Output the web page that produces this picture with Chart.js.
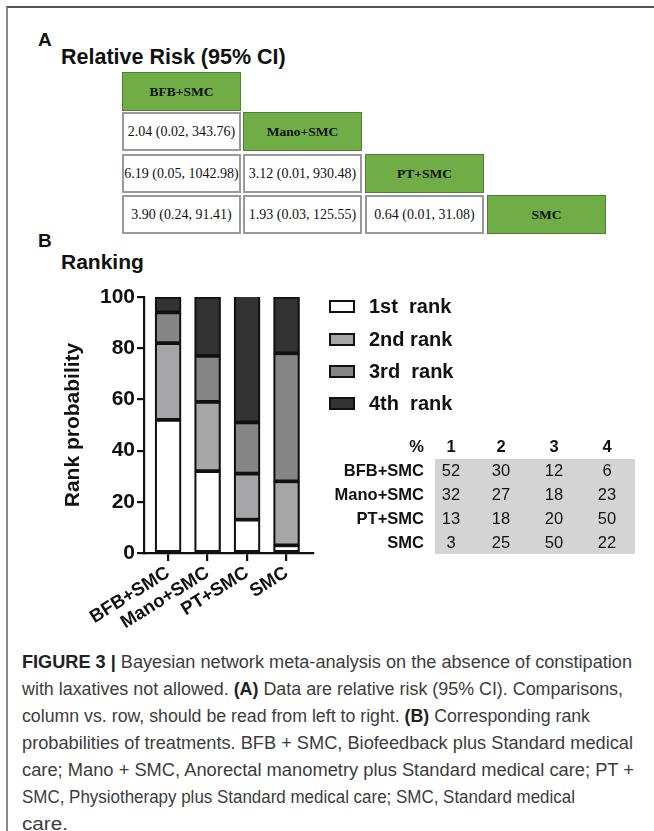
<!DOCTYPE html>
<html>
<head>
<meta charset="utf-8">
<script src="https://cdn.jsdelivr.net/npm/chart.js@4.4.1/dist/chart.umd.min.js"></script>
<style>
  html, body { margin: 0; padding: 0; background: #fff; }
  body { width: 654px; height: 831px; position: relative; overflow: hidden; font-family: "Liberation Sans", Arial, sans-serif; }
  .abs { position: absolute; }
  .frame { position: absolute; left: 6px; top: 6px; right: -2px; bottom: -2px; border-top: 2px solid #555; border-left: 2px solid #888; }
  .lbl { position: absolute; font-weight: bold; color: #111; white-space: nowrap; line-height: 1; }
  .cell { position: absolute; box-sizing: border-box; display: flex; align-items: center; justify-content: center;
          font-family: "Liberation Serif", "Times New Roman", serif; font-size: 14px; color: #111; white-space: nowrap; }
  .cell.rr { background: #fff; border: 2px solid #999; }
  .cell.hd { background: #70ad47; border: 1.5px solid #4f7f33; font-weight: bold; font-size: 13.5px; }
  .leg { position: absolute; font-weight: bold; font-size: 20px; color: #111; white-space: pre; line-height: 1; }
  .legbox { position: absolute; box-sizing: border-box; border: 2px solid #111; width: 26px; height: 13px; }
  .tb { position: absolute; font-size: 16.5px; color: #111; white-space: nowrap; line-height: 1; transform: translate(-50%, -50%); }
  .tb.b { font-weight: bold; }
  .rl { position: absolute; font-size: 16.5px; font-weight: bold; color: #111; white-space: nowrap; line-height: 1; transform: translate(-100%, -50%); }
  .cap { position: absolute; left: 22px; font-size: 17.5px; color: #3c3c3c; white-space: pre; line-height: 1; transform-origin: 0 50%; }
  .cap b { color: #222; }
</style>
</head>
<body>
<div class="frame"></div>

<div class="lbl" style="left:38px; top:30px; font-size:19px;">A</div>
<div class="lbl" style="left:61px; top:47px; font-size:21.5px;">Relative Risk (95% CI)</div>
<div id="matrix"></div>

<div class="lbl" style="left:38px; top:231px; font-size:19px;">B</div>
<div class="lbl" style="left:61px; top:251px; font-size:21px;">Ranking</div>

<div class="abs" style="left:0; top:270px; width:330px; height:360px;">
  <canvas id="c"></canvas>
</div>

<div id="legend"></div>
<div id="rtable"></div>
<div id="caption"></div>

<script>
// ---------- data ----------
const treatments = ['BFB+SMC', 'Mano+SMC', 'PT+SMC', 'SMC'];
const rrRow2 = ['2.04 (0.02, 343.76)'];
const rrRow3 = ['6.19 (0.05, 1042.98)', '3.12 (0.01, 930.48)'];
const rrRow4 = ['3.90 (0.24, 91.41)', '1.93 (0.03, 125.55)', '0.64 (0.01, 31.08)'];

const rankLabels = ['1st  rank', '2nd rank', '3rd  rank', '4th  rank'];
const rank1 = [52, 32, 13, 3];
const rank2 = [30, 27, 18, 25];
const rank3 = [12, 18, 20, 50];
const rank4 = [6, 23, 50, 22];
const yTicks = [0, 20, 40, 60, 80, 100];
const tableHeader = ['1', '2', '3', '4'];

const captionLines = [
  '<b>FIGURE 3 |</b> Bayesian network meta-analysis on the absence of constipation',
  'with laxatives not allowed. <b>(A)</b> Data are relative risk (95% CI). Comparisons,',
  'column vs. row, should be read from left to right. <b>(B)</b> Corresponding rank',
  'probabilities of treatments. BFB + SMC, Biofeedback plus Standard medical',
  'care; Mano + SMC, Anorectal manometry plus Standard medical care; PT +',
  'SMC, Physiotherapy plus Standard medical care; SMC, Standard medical',
  'care.'
];

// ---------- panel A matrix ----------
const rrRows = [[], rrRow2, rrRow3, rrRow4];
const colX = [122, 243, 365, 487];
const rowY = [72, 112, 154, 195];
const cw = 119, ch = 39;
const matrix = document.getElementById('matrix');
rrRows.forEach((row, r) => {
  row.forEach((txt, c) => {
    const d = document.createElement('div');
    d.className = 'cell rr';
    d.style.cssText = `left:${colX[c]}px;top:${rowY[r]}px;width:${cw}px;height:${ch}px;`;
    d.textContent = txt;
    matrix.appendChild(d);
  });
  const h = document.createElement('div');
  h.className = 'cell hd';
  h.style.cssText = `left:${colX[r]}px;top:${rowY[r]}px;width:${cw}px;height:${ch}px;`;
  h.textContent = treatments[r];
  matrix.appendChild(h);
});

// ---------- panel B chart ----------
const rankValues = [rank1, rank2, rank3, rank4];
const rankColors = ['#ffffff', '#a6a6a9', '#868686', '#333333'];

const datasets = rankValues.map((vals, k) => ({
  label: rankLabels[k],
  data: vals.map((v, i) => ({ x: i, y: v })),
  backgroundColor: rankColors[k],
  borderColor: '#111',
  borderWidth: 2.2,
  borderSkipped: false,
  barThickness: 26,
  grouped: false
}));

new Chart(document.getElementById('c'), {
  type: 'bar',
  data: { datasets },
  options: {
    responsive: true,
    maintainAspectRatio: false,
    animation: false,
    layout: { padding: { left: 61, top: 27, right: 17, bottom: 0 } },
    plugins: { legend: { display: false }, tooltip: { enabled: false } },
    scales: {
      x: {
        type: 'linear',
        offset: false,
        min: -0.61,
        max: 3.67,
        afterBuildTicks: (s) => { s.ticks = treatments.map((_, i) => ({ value: i })); },
        afterFit: (s) => { s.height = 77; s.paddingLeft = 0; s.paddingRight = 0; },
        grid: { offset: false, drawOnChartArea: false, drawTicks: true, tickLength: 8, color: '#111', lineWidth: 2.2 },
        border: { display: true, color: '#111', width: 2.2 },
        ticks: {
          autoSkip: false,
          minRotation: 32,
          maxRotation: 32,
          padding: 1,
          color: '#111',
          font: { family: 'Liberation Sans, Arial, sans-serif', size: 18.5, weight: 'bold' },
          callback: (v) => treatments[v]
        }
      },
      y: {
        stacked: true,
        min: 0,
        max: 100,
        afterBuildTicks: (s) => { s.ticks = yTicks.map(v => ({ value: v })); },
        afterFit: (s) => { s.width = 83; },
        grid: { drawOnChartArea: false, drawTicks: true, tickLength: 7, color: '#111', lineWidth: 2.2 },
        border: { display: true, color: '#111', width: 2.2 },
        ticks: {
          padding: 2,
          color: '#111',
          font: { family: 'Liberation Sans, Arial, sans-serif', size: 21, weight: 'bold' }
        },
        title: {
          display: true,
          text: 'Rank probability',
          color: '#111',
          padding: 0,
          font: { family: 'Liberation Sans, Arial, sans-serif', size: 21, weight: 'bold' }
        }
      }
    }
  }
});

// ---------- legend ----------
const legend = document.getElementById('legend');
const legY = [306, 339, 371, 403];
rankLabels.forEach((t, k) => {
  const b = document.createElement('div');
  b.className = 'legbox';
  b.style.cssText = `left:329px;top:${legY[k] - 6}px;background:${rankColors[k]};`;
  legend.appendChild(b);
  const l = document.createElement('div');
  l.className = 'leg';
  l.style.cssText = `left:369px;top:${legY[k] - 10}px;`;
  l.textContent = t;
  legend.appendChild(l);
});

// ---------- rank table ----------
const rt = document.getElementById('rtable');
const bg = document.createElement('div');
bg.className = 'abs';
bg.style.cssText = 'left:435px;top:459px;width:200px;height:95px;background:#d4d4d4;';
rt.appendChild(bg);
const colC = [451, 501, 554, 607];
const rowC = [470, 494, 518, 542];
const hdr = document.createElement('div');
hdr.className = 'rl';
hdr.style.cssText = 'left:424px;top:446px;';
hdr.textContent = '%';
rt.appendChild(hdr);
tableHeader.forEach((h, j) => {
  const d = document.createElement('div');
  d.className = 'tb b';
  d.style.cssText = `left:${colC[j]}px;top:446px;`;
  d.textContent = h;
  rt.appendChild(d);
});
treatments.forEach((t, i) => {
  const r = document.createElement('div');
  r.className = 'rl';
  r.style.cssText = `left:424px;top:${rowC[i]}px;`;
  r.textContent = t;
  rt.appendChild(r);
  rankValues.forEach((vals, j) => {
    const d = document.createElement('div');
    d.className = 'tb';
    d.style.cssText = `left:${colC[j]}px;top:${rowC[i]}px;`;
    d.textContent = String(vals[i]);
    rt.appendChild(d);
  });
});

// ---------- caption ----------
const cap = document.getElementById('caption');
const capRight = [632, 623, 590, 633, 634, 575, 68];
captionLines.forEach((html, i) => {
  const d = document.createElement('div');
  d.className = 'cap';
  d.style.top = (654 + 27 * i) + 'px';
  d.innerHTML = html;
  cap.appendChild(d);
  const w = d.getBoundingClientRect().width;
  const target = capRight[i] - 22;
  d.style.transform = `scaleX(${(target / w).toFixed(4)})`;
});
</script>
</body>
</html>
